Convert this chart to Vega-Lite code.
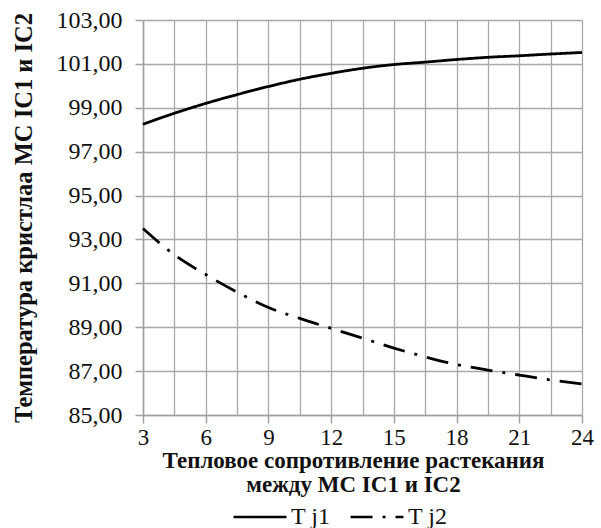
{
  "$schema": "https://vega.github.io/schema/vega-lite/v6.json",
  "width": 439,
  "height": 395,
  "autosize": {"type": "none"},
  "padding": {"left": 143, "top": 20, "right": 19, "bottom": 113},
  "background": "white",
  "config": {
    "view": {"stroke": null},
    "font": "Liberation Serif",
    "axis": {
      "gridColor": "#a8a8a8",
      "gridWidth": 1.3,
      "gridOpacity": 1,
      "domainColor": "#a0a0a0",
      "domainWidth": 1.5,
      "tickColor": "#a0a0a0",
      "tickWidth": 1.5,
      "tickSize": 8,
      "labelFont": "Liberation Serif",
      "labelFontSize": 23,
      "labelColor": "#111",
      "titleFont": "Liberation Serif",
      "titleFontWeight": "bold",
      "titleFontSize": 24.5,
      "titleColor": "#111",
      "labelFlush": false,
      "labelOverlap": false
    }
  },
  "data": {
    "values": [
      {"R": 3, "series": "T j1", "T": 98.25},
      {"R": 4.5, "series": "T j1", "T": 98.75},
      {"R": 6, "series": "T j1", "T": 99.2},
      {"R": 7.5, "series": "T j1", "T": 99.6},
      {"R": 9, "series": "T j1", "T": 99.97},
      {"R": 10.5, "series": "T j1", "T": 100.3},
      {"R": 12, "series": "T j1", "T": 100.57},
      {"R": 13.5, "series": "T j1", "T": 100.8},
      {"R": 15, "series": "T j1", "T": 100.97},
      {"R": 16.5, "series": "T j1", "T": 101.08},
      {"R": 18, "series": "T j1", "T": 101.2},
      {"R": 19.5, "series": "T j1", "T": 101.3},
      {"R": 21, "series": "T j1", "T": 101.37},
      {"R": 22.5, "series": "T j1", "T": 101.45},
      {"R": 24, "series": "T j1", "T": 101.52},
      {"R": 3, "series": "T j2", "T": 93.5},
      {"R": 4.5, "series": "T j2", "T": 92.3},
      {"R": 6, "series": "T j2", "T": 91.4},
      {"R": 7.5, "series": "T j2", "T": 90.6},
      {"R": 9, "series": "T j2", "T": 89.9},
      {"R": 10.5, "series": "T j2", "T": 89.4},
      {"R": 12, "series": "T j2", "T": 88.95},
      {"R": 13.5, "series": "T j2", "T": 88.5},
      {"R": 15, "series": "T j2", "T": 88.05},
      {"R": 16.5, "series": "T j2", "T": 87.65},
      {"R": 18, "series": "T j2", "T": 87.3},
      {"R": 19.5, "series": "T j2", "T": 87.05},
      {"R": 21, "series": "T j2", "T": 86.82},
      {"R": 22.5, "series": "T j2", "T": 86.6},
      {"R": 24, "series": "T j2", "T": 86.42}
    ]
  },
  "mark": {"type": "line", "interpolate": "monotone", "strokeWidth": 2.8},
  "encoding": {
    "x": {
      "field": "R",
      "type": "quantitative",
      "scale": {"domain": [3, 24], "nice": false, "zero": false},
      "axis": {
        "values": [3, 4.5, 6, 7.5, 9, 10.5, 12, 13.5, 15, 16.5, 18, 19.5, 21, 22.5, 24],
        "labelExpr": "datum.value % 3 === 0 ? datum.label : ''",
        "tickOpacity": {"condition": {"test": "datum.value % 3 !== 0", "value": 0}, "value": 1},
        "labelPadding": 3,
        "title": ["Тепловое сопротивление растекания", "между  МС  IC1 и IC2"],
        "titleFontSize": 23,
        "titlePadding": 0,
        "titleLineHeight": 24,
        "titleX": 210
      }
    },
    "y": {
      "field": "T",
      "type": "quantitative",
      "scale": {"domain": [85, 103], "nice": false, "zero": false},
      "axis": {
        "values": [85, 87, 89, 91, 93, 95, 97, 99, 101, 103],
        "labelExpr": "replace(format(datum.value, '.2f'), '.', ',')",
        "labelFontSize": 24,
        "labelPadding": 13,
        "title": "Температура кристлаа  МС IC1 и IC2",
        "titlePadding": 20
      }
    },
    "color": {
      "field": "series",
      "type": "nominal",
      "scale": {"range": ["#000000", "#000000"]},
      "legend": {
        "orient": "none",
        "legendX": 89,
        "legendY": 469,
        "direction": "horizontal",
        "title": null,
        "symbolType": "stroke",
        "symbolSize": 2800,
        "symbolStrokeWidth": 2.5,
        "labelFont": "Liberation Serif",
        "labelFontSize": 24,
        "labelColor": "#111",
        "labelOffset": 3,
        "columnPadding": 14
      }
    },
    "strokeDash": {
      "field": "series",
      "type": "nominal",
      "scale": {"range": [[1, 0], [22, 10, 3, 10]]},
      "legend": {
        "orient": "none",
        "legendX": 89,
        "legendY": 469,
        "direction": "horizontal",
        "title": null,
        "symbolType": "stroke",
        "symbolSize": 2800,
        "symbolStrokeWidth": 2.5,
        "labelFont": "Liberation Serif",
        "labelFontSize": 24,
        "labelColor": "#111",
        "labelOffset": 3,
        "columnPadding": 14
      }
    }
  }
}
